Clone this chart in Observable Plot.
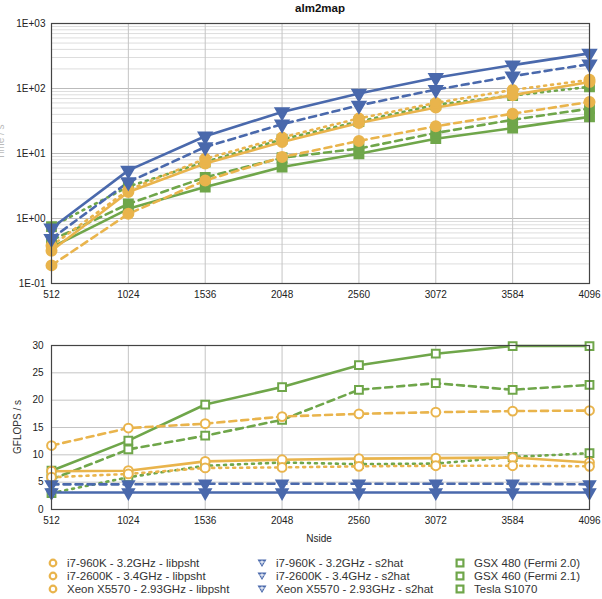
<!DOCTYPE html>
<html><head><meta charset="utf-8">
<script src="https://cdn.jsdelivr.net/npm/d3@7"></script>
<script src="https://cdn.jsdelivr.net/npm/@observablehq/plot@0.6"></script>
<style>
body{margin:0;background:#fff;font-family:"Liberation Sans",Arial,sans-serif;}
#wrap{position:relative;width:602px;height:599px;overflow:hidden;background:#fff;}
.abs{position:absolute;}
#title{left:0;width:640px;top:2px;text-align:center;font-weight:bold;font-size:11.5px;color:#111;}
#xlab{left:0;width:638px;top:533px;text-align:center;font-size:10px;color:#222;}
.ylab{font-size:10px;color:#333;white-space:nowrap;transform:translate(-50%,-50%) rotate(-90deg);}
.leg{font-size:11.5px;color:#333;white-space:nowrap;display:flex;align-items:center;height:14px;}
</style></head><body><div id="wrap"></div>
<script>
// ---- data ----
const nside = [512, 1024, 1536, 2048, 2560, 3072, 3584, 4096];
const seriesLabels = [
  "i7-960K - 3.2GHz - libpsht", "i7-2600K - 3.4GHz - libpsht", "Xeon X5570 - 2.93GHz - libpsht",
  "i7-960K - 3.2GHz - s2hat", "i7-2600K - 3.4GHz - s2hat", "Xeon X5570 - 2.93GHz - s2hat",
  "GSX 480 (Fermi 2.0)", "GSX 460 (Fermi 2.1)", "Tesla S1070"
];
const yTicksTop = [0.1, 1, 10, 100, 1000];
const yTicksBottom = [0, 5, 10, 15, 20, 25, 30];
// execution time (top panel)
const time_i7960_libpsht  = [0.32, 2.55, 7.0, 15, 29.5, 51, 79, 126];
const time_i72600_libpsht = [0.19, 1.18, 3.85, 8.8, 15.6, 26.2, 41, 62];
const time_xeon_libpsht   = [0.38, 2.75, 8.3, 17.7, 34.7, 60, 95, 136];
const time_i7960_s2hat    = [0.71, 5.5, 18.4, 43.6, 84, 146, 229, 347];
const time_i72600_s2hat   = [0.49, 3.63, 12.6, 28.2, 55, 96, 155, 237];
const time_xeon_s2hat     = [];
const time_gsx480         = [0.36, 1.41, 3.04, 6.2, 9.9, 16.9, 24.6, 36.6];
const time_gsx460         = [0.46, 1.68, 4.3, 8.6, 11.9, 20.7, 33, 49];
const time_tesla          = [0.75, 3.1, 7.4, 16.5, 31, 56, 78, 106];
// GFLOPS (bottom panel)
const gf_i7960_libpsht  = [7.0, 7.1, 8.8, 9.1, 9.3, 9.4, 9.5, 8.6];
const gf_i72600_libpsht = [11.7, 14.9, 15.7, 17.0, 17.5, 17.8, 18.0, 18.1];
const gf_xeon_libpsht   = [5.9, 6.5, 7.6, 7.7, 7.9, 8.0, 8.0, 7.9];
const gf_i7960_s2hat    = [3.1, 3.1, 3.1, 3.1, 3.1, 3.1, 3.1, 3.1];
const gf_i72600_s2hat   = [4.6, 4.6, 4.7, 4.7, 4.7, 4.7, 4.7, 4.6];
const gf_xeon_s2hat     = [];
const gf_gsx480         = [7.1, 12.6, 19.2, 22.4, 26.4, 28.5, 29.9, 29.9];
const gf_gsx460         = [5.5, 11.0, 13.5, 16.4, 21.9, 23.1, 21.9, 22.8];
const gf_tesla          = [3.0, 5.9, 8.0, 8.6, 8.3, 8.4, 9.6, 10.3];

// ---- styles ----
const YEL = "#E9B44C", BLU = "#4A69AC", GRN = "#6FA64A";
const SOLID = null, DASH = "7,5", DOT = "2,5";
const triangleDown = {
  draw(ctx, size) {
    const a = Math.sqrt(size * 4 / Math.sqrt(3)), h = a * Math.sqrt(3) / 2;
    ctx.moveTo(-a / 2, -h / 3); ctx.lineTo(a / 2, -h / 3); ctx.lineTo(0, 2 * h / 3); ctx.closePath();
  }
};
const series = [
  {label: seriesLabels[0], color: YEL, dash: SOLID, sym: "circle", t: time_i7960_libpsht, g: gf_i7960_libpsht},
  {label: seriesLabels[1], color: YEL, dash: DASH, sym: "circle", t: time_i72600_libpsht, g: gf_i72600_libpsht},
  {label: seriesLabels[2], color: YEL, dash: DOT, sym: "circle", t: time_xeon_libpsht, g: gf_xeon_libpsht},
  {label: seriesLabels[3], color: BLU, dash: SOLID, sym: triangleDown, t: time_i7960_s2hat, g: gf_i7960_s2hat},
  {label: seriesLabels[4], color: BLU, dash: DASH, sym: triangleDown, t: time_i72600_s2hat, g: gf_i72600_s2hat},
  {label: seriesLabels[5], color: BLU, dash: DOT, sym: triangleDown, t: time_xeon_s2hat, g: gf_xeon_s2hat},
  {label: seriesLabels[6], color: GRN, dash: SOLID, sym: "square", t: time_gsx480, g: gf_gsx480},
  {label: seriesLabels[7], color: GRN, dash: DASH, sym: "square", t: time_gsx460, g: gf_gsx460},
  {label: seriesLabels[8], color: GRN, dash: DOT, sym: "square", t: time_tesla, g: gf_tesla}
];
const drawOrder = [6, 7, 8, 0, 1, 2, 3, 4, 5];

const fmtE = d => { const e = Math.round(Math.log10(d)); return "1E" + (e < 0 ? "-" : "+") + String(Math.abs(e)).padStart(2, "0"); };
const minorTicks = d3.scaleLog().domain([0.1, 1000]).ticks().filter(v => !yTicksTop.some(t => Math.abs(t - v) < 1e-9));

function seriesMarks(key, open) {
  const m = [];
  for (const i of drawOrder) {
    const s = series[i];
    const data = s[key].map((v, j) => ({x: nside[j], y: v}));
    if (!data.length) continue;
    m.push(Plot.line(data, {x: "x", y: "y", stroke: s.color, strokeWidth: 2.6, strokeDasharray: s.dash}));
  }
  for (const i of drawOrder) {
    const s = series[i];
    const data = s[key].map((v, j) => ({x: nside[j], y: v}));
    if (!data.length) continue;
    const isTri = s.sym === triangleDown;
    const r = open ? (isTri ? 4.1 : 4.4) : (isTri ? 4.8 : 5.0);
    m.push(Plot.dot(data, {x: "x", y: "y", symbol: s.sym, r,
      fill: (open && !isTri) ? "white" : s.color, stroke: s.color, strokeWidth: 2}));
  }
  return m;
}

const wrap = document.getElementById("wrap");

const topChart = Plot.plot({
  width: 602, height: 300, marginLeft: 51, marginRight: 13, marginTop: 23, marginBottom: 17,
  style: {fontFamily: "Liberation Sans, Arial, sans-serif", fontSize: "10px", color: "#222", background: "transparent"},
  x: {domain: [512, 4096], ticks: nside, tickFormat: d => String(d), tickSize: 0, tickPadding: 7, label: null},
  y: {type: "log", domain: [0.1, 1000], ticks: yTicksTop, tickFormat: fmtE, tickSize: 0, tickPadding: 6, label: null},
  marks: [
    Plot.ruleY(minorTicks, {stroke: "#ddd", strokeWidth: 1}),
    Plot.ruleY(yTicksTop, {stroke: "#bbb", strokeWidth: 1}),
    Plot.ruleX(nside, {stroke: "#c4c4c4", strokeWidth: 1}),
    ...seriesMarks("t", false),
    Plot.frame({stroke: "#444", strokeWidth: 1.2})
  ]
});
topChart.classList.add("abs"); topChart.style.left = "0px"; topChart.style.top = "0px";
wrap.appendChild(topChart);

const botChart = Plot.plot({
  width: 602, height: 200, marginLeft: 51, marginRight: 13, marginTop: 15, marginBottom: 21,
  style: {fontFamily: "Liberation Sans, Arial, sans-serif", fontSize: "10px", color: "#222", background: "transparent"},
  x: {domain: [512, 4096], ticks: nside, tickFormat: d => String(d), tickSize: 0, tickPadding: 7, label: null},
  y: {domain: [0, 30], ticks: yTicksBottom, tickSize: 0, tickPadding: 8, label: null},
  marks: [
    Plot.ruleY(yTicksBottom, {stroke: "#c4c4c4", strokeWidth: 1}),
    Plot.ruleX(nside, {stroke: "#c4c4c4", strokeWidth: 1}),
    ...seriesMarks("g", true),
    Plot.frame({stroke: "#444", strokeWidth: 1.2})
  ]
});
botChart.classList.add("abs"); botChart.style.left = "0px"; botChart.style.top = "330px";
wrap.appendChild(botChart);

function addDiv(cls, id, html, css) {
  const d = document.createElement("div");
  d.className = "abs " + cls; if (id) d.id = id; d.innerHTML = html;
  Object.assign(d.style, css || {});
  wrap.appendChild(d); return d;
}
addDiv("", "title", "alm2map");
addDiv("", "xlab", "Nside");
addDiv("ylab", null, "GFLOPS / s", {left: "17px", top: "427px"});
addDiv("ylab", null, "Time / s", {left: "0px", top: "142px", color: "#bbb"});

// legend
const legX = [47, 256, 454], legY = [556, 569, 582];
series.forEach((s, i) => {
  const col = Math.floor(i / 3), row = i % 3;
  let icon;
  if (s.sym === "circle") icon = `<circle cx="6" cy="6" r="3.3" fill="white" stroke="${s.color}" stroke-width="2.2"/>`;
  else if (s.sym === "square") icon = `<rect x="2.6" y="2.6" width="6.8" height="6.8" fill="white" stroke="${s.color}" stroke-width="2.2"/>`;
  else icon = `<path d="M1.5,2.5 L10.5,2.5 L6,10 Z" fill="${s.color}"/><line x1="6" y1="3.5" x2="6" y2="7.5" stroke="white" stroke-width="1.1"/><line x1="3.5" y1="5" x2="8.5" y2="5" stroke="white" stroke-width="1.1"/>`;
  addDiv("leg", null, `<svg width="12" height="12" style="margin-right:8px">${icon}</svg><span>${s.label}</span>`,
    {left: legX[col] + "px", top: legY[row] + "px"});
});
</script>
</body></html>
